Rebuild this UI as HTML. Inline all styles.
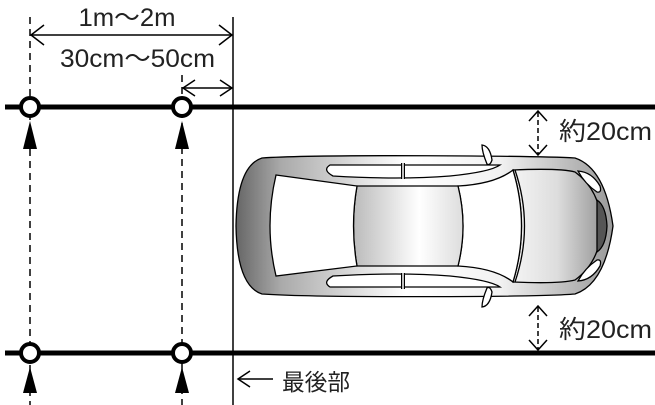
<!DOCTYPE html>
<html><head><meta charset="utf-8"><style>
html,body{margin:0;padding:0;background:#fff;width:655px;height:405px;overflow:hidden}
text{font-family:"Liberation Sans","Noto Sans CJK JP",sans-serif;fill:#222}
</style></head><body>
<svg width="655" height="405" viewBox="0 0 655 405" xmlns="http://www.w3.org/2000/svg">
<defs>
<linearGradient id="body" x1="0" x2="1" y1="0" y2="0">
<stop offset="0" stop-color="#666"/><stop offset="0.12" stop-color="#aaa"/><stop offset="0.45" stop-color="#fff"/><stop offset="0.7" stop-color="#f2f2f2"/><stop offset="1" stop-color="#999"/>
</linearGradient>
<linearGradient id="roof" x1="0" x2="1"><stop offset="0" stop-color="#bbb"/><stop offset="0.6" stop-color="#fff"/><stop offset="1" stop-color="#ddd"/></linearGradient>
<linearGradient id="hood" x1="0" x2="1"><stop offset="0" stop-color="#f4f4f4"/><stop offset="0.5" stop-color="#ddd"/><stop offset="1" stop-color="#999"/></linearGradient>
</defs>
<line x1="5" y1="107" x2="655" y2="107" stroke="#000" stroke-width="5"/>
<line x1="5" y1="353" x2="655" y2="353" stroke="#000" stroke-width="5"/>
<line x1="233" y1="17" x2="233" y2="405" stroke="#000" stroke-width="1.5"/>
<line x1="30" y1="17" x2="30" y2="405" stroke="#000" stroke-width="1.5" stroke-dasharray="7,5"/>
<line x1="182" y1="75" x2="182" y2="405" stroke="#000" stroke-width="1.5" stroke-dasharray="7,5"/>
<g fill="#fff" stroke="#000" stroke-width="4">
<circle cx="30" cy="107" r="9"/><circle cx="182" cy="107" r="9"/>
<circle cx="30" cy="353" r="9"/><circle cx="182" cy="353" r="9"/>
</g>
<g fill="#000">
<polygon points="30,121 23,149 37,149"/><polygon points="182,121 175,149 189,149"/>
<polygon points="30,367 23,393 37,393"/><polygon points="182,367 175,393 189,393"/>
</g>
<g stroke="#000" stroke-width="1.5" fill="none">
<line x1="31" y1="35" x2="232" y2="35"/>
<polyline points="44,25 31,35 44,45"/><polyline points="219,25 232,35 219,45"/>
<line x1="183" y1="88" x2="232" y2="88"/>
<polyline points="195,80 183,88 195,96"/><polyline points="220,80 232,88 220,96"/>
<line x1="238" y1="379" x2="273" y2="379"/>
<polyline points="250,371 238,379 250,387"/>
<line x1="538" y1="112" x2="538" y2="154" stroke-dasharray="5,3"/>
<polyline points="529,121 538,111 547,121"/><polyline points="529,145 538,155 547,145"/>
<line x1="538" y1="307" x2="538" y2="349" stroke-dasharray="5,3"/>
<polyline points="529,316 538,306 547,316"/><polyline points="529,340 538,350 547,340"/>
</g>
<text x="127" y="26" font-size="25" text-anchor="middle" textLength="97" lengthAdjust="spacingAndGlyphs">1m～2m</text>
<text x="60" y="67" font-size="25" textLength="155" lengthAdjust="spacingAndGlyphs">30cm～50cm</text>
<text x="559" y="140" font-size="25" textLength="93" lengthAdjust="spacingAndGlyphs">約20cm</text>
<text x="559" y="338" font-size="25" textLength="93" lengthAdjust="spacingAndGlyphs">約20cm</text>
<text x="282" y="390" font-size="23" textLength="68" lengthAdjust="spacingAndGlyphs">最後部</text>
<g stroke="#000" stroke-width="1.3">
<path d="M262 158 C320 154 540 156 575 158 Q605 168 613 226 Q605 284 575 294 C540 297 320 298 262 294 Q237 286 236 226 Q237 166 262 158 Z" fill="url(#body)"/>
<path d="M513 170 Q560 168 575 172 Q600 190 602 226 Q600 262 575 280 Q560 284 513 282 Q530 226 513 170 Z" fill="url(#hood)"/>
<path d="M515 170 Q534 226 515 282" fill="none"/>
<path d="M578 171 Q592 172 600 186 Q602 193 597 192 Q585 184 578 171 Z" fill="#fff"/>
<path d="M578 281 Q592 280 600 266 Q602 259 597 260 Q585 268 578 281 Z" fill="#fff"/>
<path d="M597 200 Q606 206 607 226 Q606 246 597 252 Z" fill="#555"/>
<path d="M458 186 Q495 184 513 170 Q530 226 513 282 Q495 268 458 266 Q468 226 458 186 Z" fill="#fff"/>
<path d="M357 186 L458 186 Q468 226 458 266 L357 266 Q350 226 357 186 Z" fill="url(#roof)"/>
<path d="M276 175 L357 186 Q350 226 357 266 L276 276 Q264 226 276 175 Z" fill="#fff"/>
<path d="M330 165 Q322 170 333 176 Q400 180 450 176 Q490 172 500 165 Z" fill="#fff"/>
<path d="M330 287 Q322 282 333 276 Q400 272 450 276 Q490 280 500 287 Z" fill="#fff"/>
<line x1="403" y1="163" x2="403" y2="179" stroke-width="4"/>
<line x1="403" y1="163" x2="403" y2="179" stroke="#fff" stroke-width="1.5"/>
<line x1="403" y1="273" x2="403" y2="289" stroke-width="4"/>
<line x1="403" y1="273" x2="403" y2="289" stroke="#fff" stroke-width="1.5"/>
<path d="M482 145 Q490 146 492 160 Q490 166 487 164 Q482 152 482 145 Z" fill="#fff"/>
<path d="M482 307 Q490 306 492 292 Q490 286 487 288 Q482 300 482 307 Z" fill="#fff"/>
</g>
</svg>
</body></html>
